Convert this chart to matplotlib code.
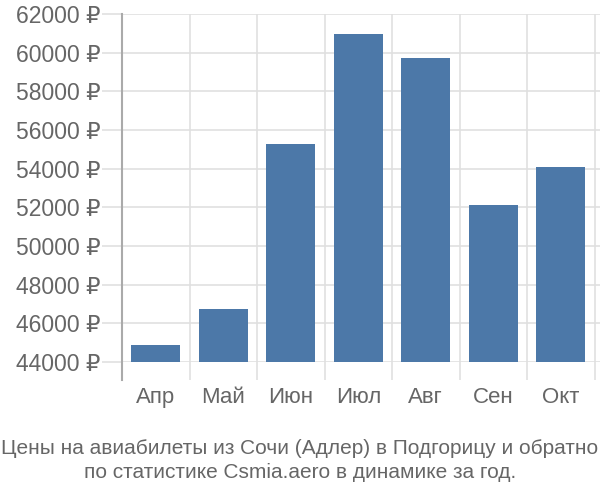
import matplotlib
matplotlib.use("Agg")
import matplotlib.pyplot as plt
import numpy as np

plt.rcParams['font.family'] = ['Liberation Sans', 'DejaVu Sans']

months = ['Апр', 'Май', 'Июн', 'Июл', 'Авг', 'Сен', 'Окт']
prices = [44880, 46740, 55280, 60960, 59720, 52120, 54090]
yticks = [44000, 46000, 48000, 50000, 52000, 54000, 56000, 58000, 60000, 62000]
title = ('Цены на авиабилеты из Сочи (Адлер) в Подгорицу и обратно\n'
         'по статистике Csmia.aero в динамике за год.')

base = 44000
text_col = '#666666'
grid_col = '#e0e0e0'
bar_col = '#4c78a8'

fig = plt.figure(figsize=(6, 5), dpi=100)
ax = fig.add_axes([122 / 600, 138 / 500, 478 / 600, 348 / 500])

x = np.arange(len(months))
heights = [p - base for p in prices]
ax.bar(x, heights, bottom=base, width=0.72, color=bar_col, zorder=3)

ax.set_ylim(44000, 62000)
ax.set_xlim(-0.5, len(months) - 0.5 + 5.5 / 67.5)

# y grid + tick stubs (20 px)
ax.set_yticks(yticks)
ax.set_yticklabels([f'{v} ₽' for v in yticks])
ax.yaxis.grid(True, color=grid_col, linewidth=1.2, zorder=0)
ax.tick_params(axis='y', length=14.4, width=1.2, color=grid_col, pad=1,
               labelsize=16.5, labelcolor=text_col)

# x category boundaries as major ticks (18 px), labels on minor ticks
bounds = np.arange(len(months) + 1) - 0.5
ax.set_xticks(bounds)
ax.set_xticklabels([''] * len(bounds))
ax.xaxis.grid(True, color=grid_col, linewidth=1.2, zorder=0)
ax.tick_params(axis='x', which='major', length=13, width=1.2, color=grid_col)
ax.set_xticks(x, minor=True)
ax.set_xticklabels(months, minor=True)
ax.tick_params(axis='x', which='minor', length=0, pad=18,
               labelsize=16, labelcolor=text_col)

for s in ['top', 'right', 'bottom']:
    ax.spines[s].set_visible(False)
ax.spines['left'].set_color('#aaaaaa')
ax.spines['left'].set_linewidth(1.5)
ax.spines['left'].set_bounds(44000 - 18 / 348 * 18000, 62000)

fig.text(0.5, 0.079, title, ha='center', va='center', fontsize=15,
         color=text_col, linespacing=1.3)

fig.savefig('out.png', dpi=100)
